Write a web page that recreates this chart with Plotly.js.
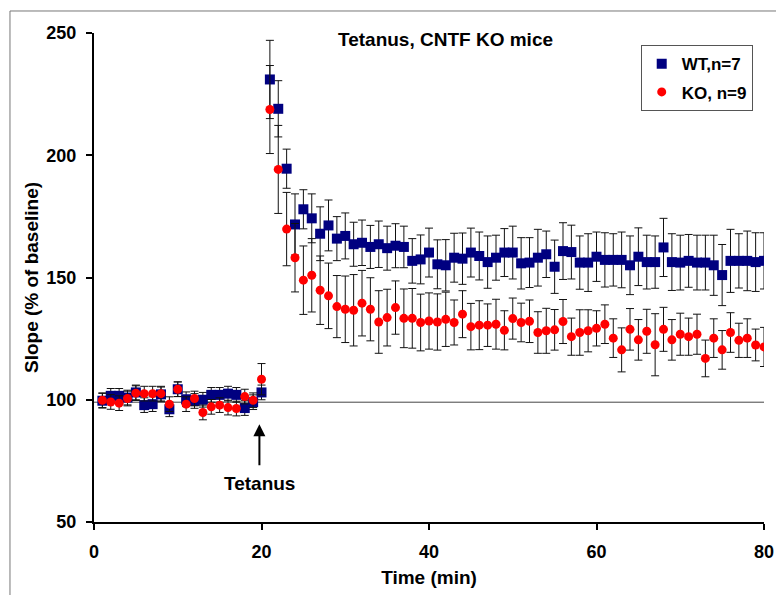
<!DOCTYPE html>
<html>
<head>
<meta charset="utf-8">
<script src="https://cdn.plot.ly/plotly-3.0.1.min.js"></script>
<style>html,body{margin:0;padding:0;background:#fff;}#chart{width:776px;height:595px;}</style>
</head>
<body>
<div id="chart"></div>
<script>
const timeMin = [1,2,3,4,5,6,7,8,9,10,11,12,13,14,15,16,17,18,19,20,
  21,22,23,24,25,26,27,28,29,30,31,32,33,34,35,36,37,38,39,40,
  41,42,43,44,45,46,47,48,49,50,51,52,53,54,55,56,57,58,59,60,
  61,62,63,64,65,66,67,68,69,70,71,72,73,74,75,76,77,78,79,80];

const wtSlope = [99.6,101.6,101.6,100.9,103,97.8,98.2,102.2,96.1,104.3,100.2,99.5,100,102,102,102.5,102,96.6,99,103,
  231,219,194.5,171.7,177.9,174.2,167.9,171.3,165.9,167,163.6,164.2,162.5,163.6,162,163,162.5,156.8,157.4,160.2,
  155.4,155,158.1,157.7,160.2,158.8,156.3,158.1,160.2,160.2,155.8,156.1,158.1,159.5,154.4,160.8,160.4,156.1,156.1,158.5,
  157.2,157.2,157.2,155,158.5,156.3,156.3,162.3,156.3,156.1,156.8,156.1,156.1,155,151,156.8,156.8,156.8,156.3,156.8];

const wtErr = [3,3,3,3,3,3,3,3,3,3,3,3,3,3,3,3,3,3,3,3,
  16,11.5,8,12.5,8,10,11,10.4,9,9.4,9,9.3,8.8,9.5,9,9,8.5,9.1,10,10,
  10,10.5,10,10.5,10,9.8,10.7,9.2,9.8,10.8,10.5,10.2,11.6,9.5,10.9,11.6,11,10.9,11.8,10.1,
  11.1,10.7,11.4,12,11.8,11,10.7,11.9,11.6,11.2,10.8,11.2,11.2,12.3,12.5,12.9,11.1,12.2,12,11.5];

const koSlope = [99.8,99.1,98.6,100.5,102.7,102.5,102.5,102.5,98.2,104.3,98.2,100.5,94.8,97.1,97.8,96.8,96.4,101.3,99.8,108.4,
  218.7,194.2,169.8,158.1,148.9,150.9,144.8,142.5,138.1,137,136.6,139.5,137,131.8,133.6,137.7,133.3,133.3,131.6,132.2,
  131.8,132.9,131.6,135,129.9,130.5,130.5,130.9,128.4,133.2,131.6,132.1,127.5,128.2,128.6,132,125.8,127.5,128.2,129.2,
  130.9,125.2,120.4,128.8,124.5,128,122.5,128.8,124.5,126.8,125.8,126.8,116.9,125.2,120.4,127.5,124.3,125.2,122.4,121.6];

const koErr = [3,3,3,3,3,3,3,3,3,3,3,3,3,3,3,3,3,3,3,6.4,
  18,18,15,14,14,15,14,13.4,12.7,13.6,14.6,13.4,12.9,12.8,11.6,10.9,12,12.2,11.6,11.5,
  11.5,11.1,9.2,9.6,9.5,10,8.7,10.2,8,8.4,7.9,8.7,8.5,9.2,8.3,9,7.6,9.3,8.6,7.2,
  7.9,7.9,9,8.5,8.3,9,12.7,9,8.3,8.6,7.6,8.2,7.5,7.9,7.9,8.1,7,7.9,6.5,8];

const xTicks = [0,20,40,60,80];
const yTicks = [50,100,150,200,250];

const FONT = 'Arial, "Liberation Sans", sans-serif';

const errStyle = (arr) => ({type:'data', array:arr, visible:true, color:'#111', thickness:1, width:4});

const traces = [
  {x: timeMin, y: wtSlope, type:'scatter', mode:'markers', name:'WT,n=7', legendgroup:'a',
   marker:{symbol:'square', size:10, color:'#000080'}, error_y: errStyle(wtErr)},
  {x: timeMin, y: koSlope, type:'scatter', mode:'markers', name:'KO, n=9', legendgroup:'b',
   marker:{symbol:'circle', size:9, color:'#ff0000'}, error_y: errStyle(koErr)}
];

const layout = {
  width:776, height:595,
  margin:{l:94, r:12, t:33, b:73},
  paper_bgcolor:'#fff', plot_bgcolor:'#fff',
  font:{family:FONT, color:'#000', size:18, weight:700},
  showlegend:true,
  legend:{x:0.816, y:0.975, xanchor:'left', yanchor:'top', bgcolor:'#fff', bordercolor:'#555', borderwidth:1,
    font:{family:FONT, size:17, weight:700}, traceorder:'grouped', tracegroupgap:3, itemwidth:30},
  xaxis:{range:[0,80], tickvals:xTicks, ticktext:xTicks.map(String), showline:true, linecolor:'#000', linewidth:2,
    ticks:'outside', ticklen:6, tickwidth:2, tickcolor:'#000', showgrid:false, zeroline:false,
    tickfont:{family:FONT, size:18, weight:700}, ticklabelstandoff:6,
    title:{text:'Time (min)', font:{family:FONT, size:19, weight:700}, standoff:10}},
  yaxis:{range:[50,250], tickvals:yTicks, ticktext:yTicks.map(String), showline:true, linecolor:'#000', linewidth:2,
    ticks:'outside', ticklen:6, tickwidth:2, tickcolor:'#000', showgrid:false, zeroline:false,
    tickfont:{family:FONT, size:18, weight:700}, ticklabelstandoff:6,
    title:{text:'Slope (% of baseline)', font:{family:FONT, size:19, weight:700}, standoff:3}},
  shapes:[
    {type:'line', xref:'x', yref:'y', x0:0, x1:80.3, y0:99, y1:99, line:{color:'#444', width:1}, layer:'below'},
    {type:'rect', xref:'paper', yref:'paper', x0:-0.1254, x1:1.1, y0:-0.3, y1:1.045, line:{color:'#777', width:1}, layer:'below'}
  ],
  annotations:[
    {text:'Tetanus, CNTF KO mice', xref:'paper', yref:'paper', x:0.524, y:0.986, xanchor:'center', yanchor:'middle',
     showarrow:false, font:{family:FONT, size:19, weight:700}},
    {text:'Tetanus', xref:'x', yref:'y', x:19.75, y:90, ax:0, ay:59, showarrow:true, arrowhead:2, arrowsize:1.2,
     arrowwidth:2, arrowcolor:'#000', startstandoff:6, font:{family:FONT, size:19, weight:700}}
  ]
};

Plotly.newPlot('chart', traces, layout, {displayModeBar:false, staticPlot:true});
</script>
</body>
</html>
